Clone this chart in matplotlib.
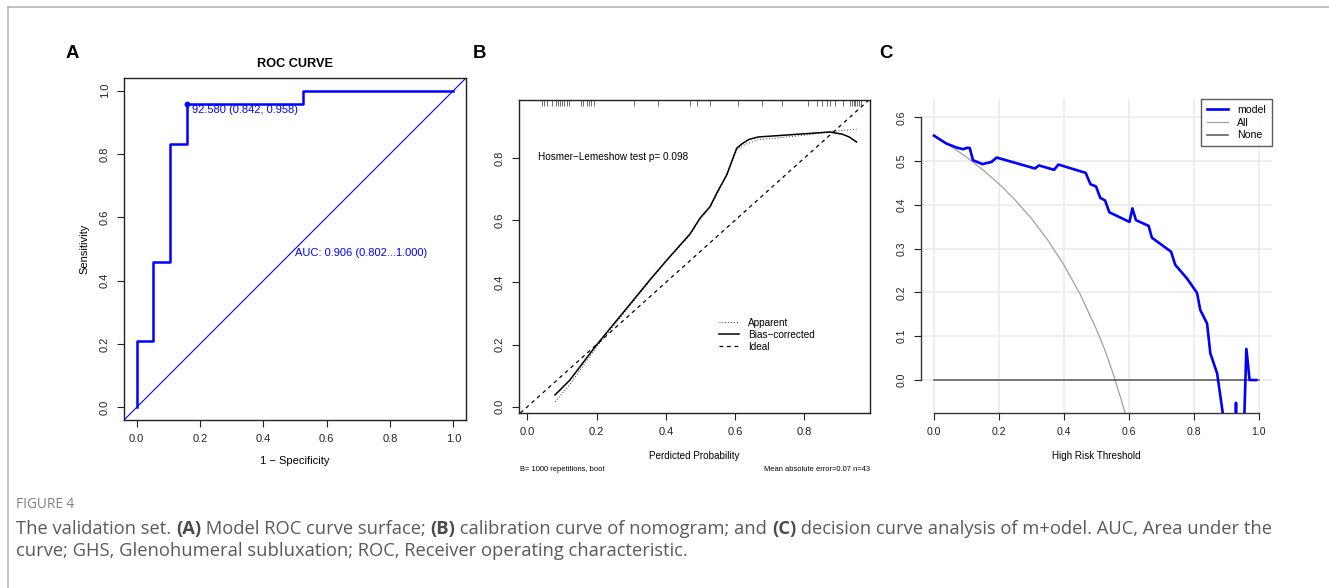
import matplotlib
matplotlib.use('Agg')
import matplotlib.pyplot as plt
from matplotlib.lines import Line2D

plt.rcParams['font.family'] = ['Liberation Sans', 'DejaVu Sans']

# ---------------- data ----------------
# Panel A: ROC
roc_fpr = [0.0, 0.0, 0.053, 0.053, 0.105, 0.105, 0.158, 0.158, 0.526, 0.526, 1.0]
roc_tpr = [0.0, 0.208, 0.208, 0.458, 0.458, 0.833, 0.833, 0.958, 0.958, 1.0, 1.0]
best_fpr, best_tpr = 0.158, 0.958
best_label = "92.580 (0.842, 0.958)"
auc_label = "AUC: 0.906 (0.802...1.000)"

# Panel B: calibration
cal_x_bias = [0.080, 0.123, 0.200, 0.287, 0.354, 0.403, 0.470, 0.499, 0.528, 0.547,
              0.576, 0.605, 0.620, 0.640, 0.667, 0.797, 0.874, 0.910, 0.930, 0.951]
cal_y_bias = [0.038, 0.086, 0.199, 0.317, 0.408, 0.472, 0.556, 0.607, 0.644, 0.687,
              0.746, 0.832, 0.846, 0.860, 0.868, 0.878, 0.884, 0.877, 0.868, 0.852]
cal_x_app = [0.080, 0.123, 0.200, 0.287, 0.354, 0.403, 0.470, 0.499, 0.528, 0.576,
             0.605, 0.620, 0.667, 0.797, 0.874, 0.951]
cal_y_app = [0.016, 0.072, 0.192, 0.312, 0.405, 0.470, 0.553, 0.603, 0.642, 0.744,
             0.826, 0.840, 0.859, 0.873, 0.885, 0.893]
rug_pred = [0.043, 0.049, 0.058, 0.071, 0.082, 0.088, 0.095, 0.101, 0.107, 0.114,
            0.120, 0.155, 0.161, 0.171, 0.178, 0.184, 0.193, 0.309, 0.378, 0.470,
            0.491, 0.528, 0.609, 0.677, 0.735, 0.812, 0.836, 0.850, 0.865, 0.874,
            0.889, 0.913, 0.932, 0.939, 0.944, 0.948, 0.953, 0.958, 0.963]
hl_label = "Hosmer\u2212Lemeshow test p= 0.098"
cal_legend = ["Apparent", "Bias\u2212corrected", "Ideal"]
boot_label = "B= 1000 repetitions, boot"
mae_label = "Mean absolute error=0.07 n=43"

# Panel C: decision curve
dca_thr = [0.000, 0.038, 0.069, 0.090, 0.100, 0.110, 0.120, 0.149, 0.177, 0.193,
           0.311, 0.323, 0.370, 0.383, 0.467, 0.482, 0.499, 0.512, 0.527, 0.540,
           0.602, 0.611, 0.622, 0.661, 0.671, 0.730, 0.743, 0.779, 0.810, 0.820,
           0.841, 0.851, 0.872, 0.894, 0.925, 0.929, 0.930, 0.931, 0.955, 0.962,
           0.972, 0.992]
dca_model = [0.558, 0.540, 0.531, 0.527, 0.530, 0.530, 0.502, 0.493, 0.498, 0.508,
             0.483, 0.490, 0.480, 0.492, 0.473, 0.447, 0.442, 0.416, 0.410, 0.383,
             0.361, 0.392, 0.365, 0.352, 0.325, 0.293, 0.263, 0.232, 0.199, 0.160,
             0.129, 0.061, 0.015, -0.100, -0.100, -0.100, -0.052, -0.100, -0.100, 0.071,
             0.000, 0.000]
all_thr = [0.00, 0.05, 0.10, 0.15, 0.20, 0.25, 0.30, 0.35, 0.40, 0.45, 0.50, 0.525,
           0.55, 0.575, 0.60]
all_nb = [0.558, 0.535, 0.509, 0.480, 0.448, 0.411, 0.369, 0.320, 0.263, 0.196, 0.116,
          0.071, 0.018, -0.041, -0.105]
none_thr = [0.0, 1.0]
none_nb = [0.0, 0.0]
dca_legend = ["model", "All", "None"]

caption_head = "FIGURE 4"
caption_line1 = [("The validation set. ", "normal"), ("(A)", "bold"),
                 (" Model ROC curve surface; ", "normal"), ("(B)", "bold"),
                 (" calibration curve of nomogram; and ", "normal"), ("(C)", "bold"),
                 (" decision curve analysis of m+odel. AUC, Area under the", "normal")]
caption_line2 = [("curve; GHS, Glenohumeral subluxation; ROC, Receiver operating characteristic.", "normal")]

# ---------------- figure ----------------
W, H = 1329, 588
fig = plt.figure(figsize=(W / 100, H / 100), dpi=100)
BLUE = '#0000ff'


def ax_px(left, top, right, bottom):
    return fig.add_axes([left / W, 1 - bottom / H, (right - left) / W, (bottom - top) / H])


def ftext(x, y, s, **kw):
    return fig.text(x / W, 1 - y / H, s, **kw)


# frame lines
fig.add_artist(Line2D([7.5 / W, 7.5 / W], [0, 1 - 6.5 / H], transform=fig.transFigure,
                      color='#b4b4b4', lw=1.2))
fig.add_artist(Line2D([7.5 / W, 1], [1 - 6.5 / H, 1 - 6.5 / H], transform=fig.transFigure,
                      color='#b4b4b4', lw=1.2))


def r_style(ax, xt, yt, fs=8):
    ax.set_xticks(xt)
    ax.set_xticklabels(['%.1f' % v for v in xt])
    ax.set_yticks(yt)
    ax.set_yticklabels(['%.1f' % v for v in yt], rotation=90, va='center')
    ax.tick_params(direction='out', length=5, width=0.8, pad=5, labelsize=fs,
                   colors='#222222')
    for sp in ax.spines.values():
        sp.set_linewidth(1.0)
        sp.set_color('#222222')


# ---------- Panel A ----------
axA = ax_px(124, 78, 466, 420)
axA.set_xlim(-0.04, 1.04)
axA.set_ylim(-0.04, 1.04)
axA.axline((0, 0), slope=1, color=BLUE, lw=0.8)
axA.plot(roc_fpr, roc_tpr, color=BLUE, lw=1.8)
axA.plot([best_fpr], [best_tpr], 'o', color=BLUE, ms=3.2)
axA.text(0.175, 0.938, best_label, color=BLUE, fontsize=8, va='center', ha='left')
axA.text(0.5, 0.488, auc_label, color=BLUE, fontsize=8, va='center', ha='left')
r_style(axA, [0, 0.2, 0.4, 0.6, 0.8, 1.0], [0, 0.2, 0.4, 0.6, 0.8, 1.0])
ftext(295, 64, "ROC CURVE", fontsize=9.2, fontweight='bold', ha='center', va='center')
ftext(295, 461, "1 \u2212 Specificity", fontsize=8, ha='center', va='center')
ftext(84, 249, "Sensitivity", fontsize=8, ha='center', va='center', rotation=90)
ftext(72.5, 53.5, "A", fontsize=13.4, fontweight='bold', ha='center', va='center')

# ---------- Panel B ----------
axB = ax_px(519, 100, 870, 413)
axB.set_xlim(-0.024, 0.99)
axB.set_ylim(-0.02, 0.987)
axB.axline((0, 0), slope=1, color='black', lw=0.9, linestyle=(0, (3, 3)), label=cal_legend[2])
axB.plot(cal_x_app, cal_y_app, color='#333333', lw=0.7, linestyle=(0, (1, 2)), label=cal_legend[0])
axB.plot(cal_x_bias, cal_y_bias, color='black', lw=1.1, label=cal_legend[1])
axB.vlines(rug_pred, 1 - 6 / 313, 1, transform=axB.get_xaxis_transform(),
           color='#555555', lw=0.6)
axB.text(0.032, 0.803, hl_label, fontsize=7.2, va='center', ha='left')
h, l = axB.get_legend_handles_labels()
order = [l.index(s) for s in cal_legend]
axB.legend([h[i] for i in order], [l[i] for i in order], loc='upper left',
           bbox_to_anchor=(0.571, 0.305), frameon=False, fontsize=7.2, borderpad=0,
           handlelength=2.0, handletextpad=0.85, labelspacing=0.2, borderaxespad=0)
r_style(axB, [0, 0.2, 0.4, 0.6, 0.8], [0, 0.2, 0.4, 0.6, 0.8])
ftext(694.5, 456, "Perdicted Probability", fontsize=7.1, ha='center', va='center')
ftext(520, 469.5, boot_label, fontsize=5.4, ha='left', va='center')
ftext(870, 469.5, mae_label, fontsize=5.4, ha='right', va='center')
ftext(480, 53.5, "B", fontsize=13.4, fontweight='bold', ha='center', va='center')

# ---------- Panel C ----------
axC = ax_px(921, 99.3, 1271.7, 413.3)
axC.set_xlim(-0.04, 1.04)
axC.set_ylim(-0.076, 0.641)
axC.set_axisbelow(True)
axC.grid(True, color='#ebebeb', lw=1.2)
axC.plot(all_thr, all_nb, color='#a0a0a0', lw=0.9, label=dca_legend[1])
axC.plot(none_thr, none_nb, color='#555555', lw=1.1, label=dca_legend[2])
axC.plot(dca_thr, dca_model, color=BLUE, lw=1.9, label=dca_legend[0])
for s in ('top', 'right'):
    axC.spines[s].set_visible(False)
r_style(axC, [0, 0.2, 0.4, 0.6, 0.8, 1.0], [0, 0.1, 0.2, 0.3, 0.4, 0.5, 0.6], fs=7.6)
axC.spines['left'].set_bounds(0, 0.6)
axC.spines['bottom'].set_bounds(0, 1.0)
axC.spines['left'].set_color('#333333')
axC.spines['bottom'].set_color('#333333')
h, l = axC.get_legend_handles_labels()
order = [l.index(s) for s in dca_legend]
leg = axC.legend([h[i] for i in order], [l[i] for i in order], loc='upper right',
                 frameon=True, fancybox=False, edgecolor='#333333', fontsize=7.6,
                 borderaxespad=0, handlelength=2.0, handletextpad=0.9,
                 labelspacing=0.25, borderpad=0.55)
leg.get_frame().set_linewidth(1.0)
ftext(1096, 456, "High Risk Threshold", fontsize=7.1, ha='center', va='center')
ftext(886, 53.5, "C", fontsize=13.4, fontweight='bold', ha='center', va='center')

# ---------- caption ----------
renderer = fig.canvas.get_renderer()
CAPFONT = ['Open Sans', 'DejaVu Sans']


def text_width(s, size, weight):
    t = fig.text(0, 0, '|' + s + '|', fontsize=size, fontweight=weight, family=CAPFONT)
    t2 = fig.text(0, 0, '||', fontsize=size, fontweight=weight, family=CAPFONT)
    w = t.get_window_extent(renderer).width - t2.get_window_extent(renderer).width
    t.remove()
    t2.remove()
    return w


def draw_runs(x, y, runs, size, color, bold_color):
    for s, wgt in runs:
        ftext(x, y, s, fontsize=size, fontweight=wgt, family=CAPFONT,
              color=bold_color if wgt == 'bold' else color, ha='left', va='center')
        x += text_width(s, size, wgt)


ftext(16, 505, caption_head, fontsize=9.8, family=CAPFONT, color='#808080',
      ha='left', va='center')
draw_runs(16, 529, caption_line1, 13.2, '#5a5a5a', '#4a4a4a')
draw_runs(16, 551, caption_line2, 13.2, '#5a5a5a', '#4a4a4a')

fig.savefig('out.png', dpi=100)
